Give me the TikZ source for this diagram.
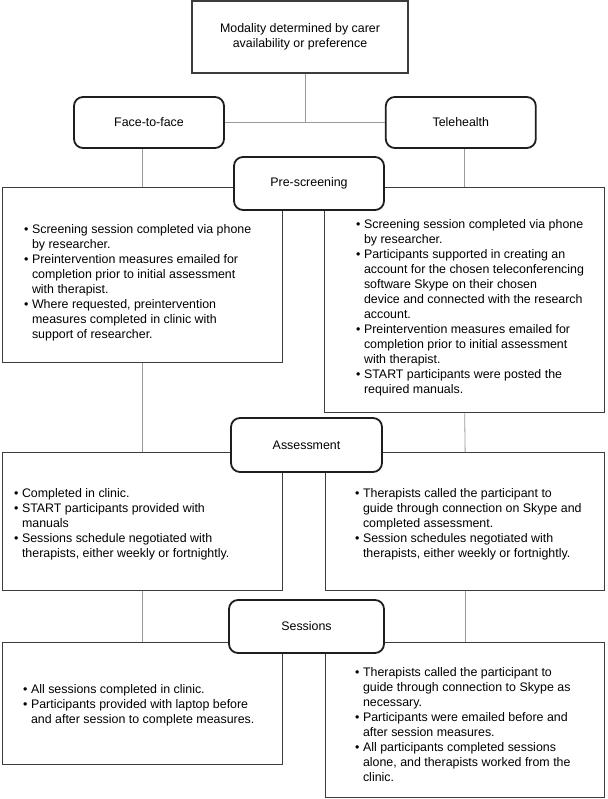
\documentclass[tikz,border=0pt]{standalone}
\usepackage{fontspec}
\setmainfont{Liberation Sans}
\usetikzlibrary{calc, positioning}

\definecolor{linkgray}{HTML}{9A9A9A}
\definecolor{framegray}{HTML}{3C3C3C}
\definecolor{stagegray}{HTML}{1E1E1E}

\newcommand{\pointlist}[1]{\begin{tabular}{@{}l@{\hspace{3.5pt}}l@{}}#1\end{tabular}}

\begin{document}
\begin{tikzpicture}[
  x=1pt, y=-1pt,
  every node/.style={font=\fontsize{12.4}{15}\selectfont},
  stage/.style={
    draw=stagegray,
    line width=1.8pt,
    rounded corners=9pt,
    fill=white,
    minimum width=150pt,
    minimum height=53pt,
    inner sep=0pt
    },
  panel/.style={
    draw=framegray,
    line width=1.3pt,
    anchor=north west,
    inner sep=0pt
    },
  bullets/.style={anchor=west, inner sep=0pt, align=left},
  link/.style={draw=linkgray, line width=0.8pt}
]
\useasboundingbox (0,0) rectangle (607,799);

% choice of modality
\node[draw=framegray, line width=1.3pt, minimum width=216pt, minimum height=72pt,
  align=center] (modality) at (300,37)
  {Modality determined by carer\\availability or preference};

\node[stage, minimum height=51pt] (ftf) at (149,122.5) {Face-to-face};
\node[stage, minimum height=51pt, right=160pt of ftf] (tele) {Telehealth};

% panels
\node[panel, minimum width=280pt, minimum height=175pt] (preL) at (2,187) {};
\node[panel, minimum width=280pt, minimum height=225pt] (preR) at (324,187) {};
\node[panel, minimum width=280pt, minimum height=138pt] (assL) at (2,452) {};
\node[panel, minimum width=279pt, minimum height=138pt] (assR) at (325,452) {};
\node[panel, minimum width=280pt, minimum height=122pt] (sessL) at (2,642) {};
\node[panel, minimum width=279pt, minimum height=155pt] (sessR) at (325,642) {};

% stages
\node[stage] (pre) at (309,183.5) {Pre-screening};
\node[stage, minimum width=151pt, minimum height=54pt] (ass) at (306.5,445) {Assessment};
\node[stage, minimum width=155pt] (sess) at (306.5,626.5) {Sessions};

% texts of the panels
\node[bullets] (preLtext) at ($(preL.south west)!0.5!(preL.west |- pre.south)+(22,-4)$)
  {\pointlist{
  \textbullet & Screening session completed via phone\\
  & by researcher.\\
  \textbullet & Preintervention measures emailed for\\
  & completion prior to initial assessment\\
  & with therapist.\\
  \textbullet & Where requested, preintervention\\
  & measures completed in clinic with\\
  & support of researcher.}};

\node[bullets] (preRtext) at ($(preR.south west)!0.5!(preR.west |- pre.south)+(32,-4)$)
  {\pointlist{
  \textbullet & Screening session completed via phone\\
  & by researcher.\\
  \textbullet & Participants supported in creating an\\
  & account for the chosen teleconferencing\\
  & software Skype on their chosen\\
  & device and connected with the research\\
  & account.\\
  \textbullet & Preintervention measures emailed for\\
  & completion prior to initial assessment\\
  & with therapist.\\
  \textbullet & START participants were posted the\\
  & required manuals.}};

\node[bullets] (assLtext) at ($(assL.south west)!0.5!(assL.west |- ass.south)+(12,-8)$)
  {\pointlist{
  \textbullet & Completed in clinic.\\
  \textbullet & START participants provided with\\
  & manuals\\
  \textbullet & Sessions schedule negotiated with\\
  & therapists, either weekly or fortnightly.}};

\node[bullets] (assRtext) at ($(assR.south west)!0.5!(assR.west |- ass.south)+(30,-8)$)
  {\pointlist{
  \textbullet & Therapists called the participant to\\
  & guide through connection on Skype and\\
  & completed assessment.\\
  \textbullet & Session schedules negotiated with\\
  & therapists, either weekly or fortnightly.}};

\node[bullets] (sessLtext) at ($(sessL.south west)!0.5!(sessL.west |- sess.south)+(21,-4)$)
  {\pointlist{
  \textbullet & All sessions completed in clinic.\\
  \textbullet & Participants provided with laptop before\\
  & and after session to complete measures.}};

\node[bullets] (sessRtext) at ($(sessR.south west)!0.5!(sessR.west |- sess.south)+(30,0)$)
  {\pointlist{
  \textbullet & Therapists called the participant to\\
  & guide through connection to Skype as\\
  & necessary.\\
  \textbullet & Participants were emailed before and\\
  & after session measures.\\
  \textbullet & All participants completed sessions\\
  & alone, and therapists worked from the\\
  & clinic.}};

% connectors
\coordinate (split) at ($(ftf.east)!0.5!(tele.west)$);
\draw[link] (split |- modality.south) -- (split);
\draw[link] (ftf.east) -- (tele.west);
\draw[link] (preL.north |- ftf.south) -- (preL.north);
\draw[link] (preR.north |- tele.south) -- (preR.north);
\draw[link] (preL.south) -- (assL.north);
\draw[link] (preR.south) -- (assR.north);
\draw[link] (assL.south) -- (sessL.north);
\draw[link] (assR.south) -- (sessR.north);

\end{tikzpicture}
\end{document}
